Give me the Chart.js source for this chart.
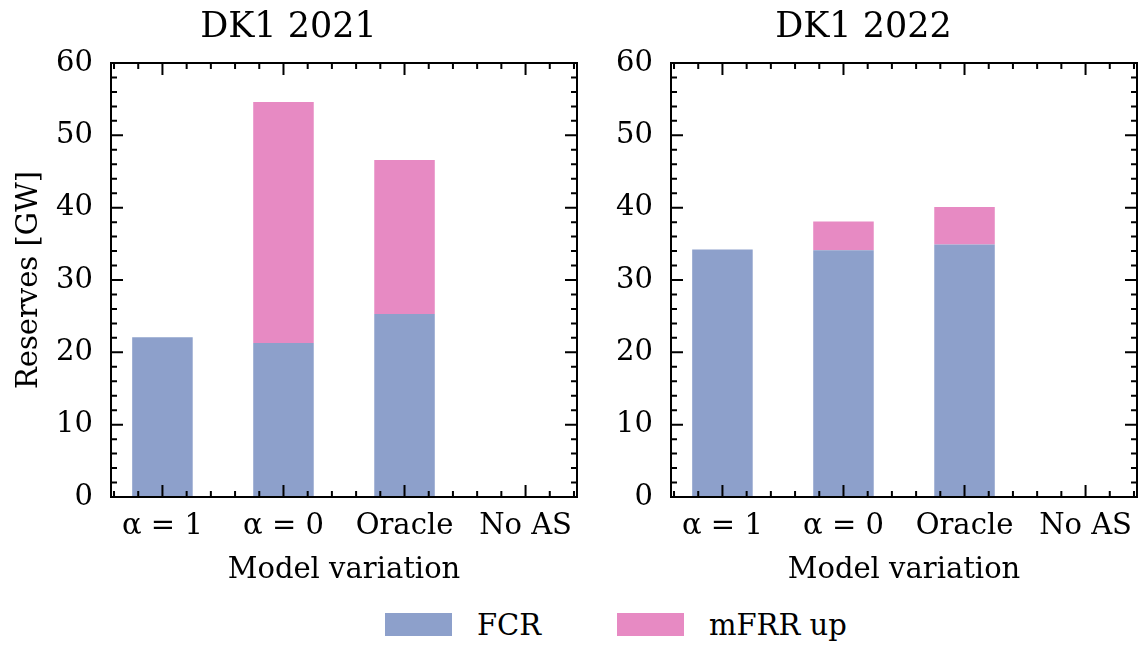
<!DOCTYPE html>
<html>
<head>
<meta charset="utf-8">
<script src="https://cdn.jsdelivr.net/npm/chart.js@4.4.1/dist/chart.umd.min.js"></script>
<style>
  body { margin: 0; background: #fff; width: 1142px; height: 645px; position: relative; overflow: hidden; }
  .box { position: absolute; top: 0; height: 600px; }
  #legend { position: absolute; top: 605px; left: 0; width: 1142px; height: 41px;
            font-family: "DejaVu Serif", "Liberation Serif", serif; font-size: 29px; color: #000; }
  .item { position: absolute; top: 0; height: 41px; line-height: 41px; white-space: nowrap; }
  .swatch { position: absolute; top: 8px; width: 67px; height: 23px; }
  .lbl { position: absolute; left: 92px; top: 0; }
</style>
</head>
<body>
<div class="box" style="left:0;width:590px"><canvas id="c2021"></canvas></div>
<div class="box" style="left:590px;width:552px"><canvas id="c2022"></canvas></div>
<div id="legend"></div>
<script>
var categories = ["α = 1", "α = 0", "Oracle", "No AS"];
var fcr2021 = [22.1, 21.3, 25.3, 0];
var mfrr2021 = [0, 33.3, 21.3, 0];
var fcr2022 = [34.2, 34.1, 34.9, 0];
var mfrr2022 = [0, 4.0, 5.2, 0];
var yTicks = [0, 10, 20, 30, 40, 50, 60];

var fcrColor = "#8da0cb";
var mfrrColor = "#e78ac3";
var fontFam = "'DejaVu Serif', 'Liberation Serif', serif";

function points(arr) {
    return arr.map(function (v, i) { return {x: i, y: v}; });
}

// inward ticks on all four sides, plus frame
var frameTicks = {
    id: "frameTicks",
    afterDraw: function (chart) {
        var ctx = chart.ctx, a = chart.chartArea;
        var xs = chart.scales.x, ys = chart.scales.y;
        ctx.save();
        ctx.strokeStyle = "#000";
        ctx.lineWidth = 2;
        ctx.beginPath();
        for (var k = -2; k <= 17; k++) {
            var v = k / 5;
            var px = xs.getPixelForValue(v);
            if (px < a.left + 1 || px > a.right - 1) continue;
            var len = (k % 5 === 0) ? 12 : 6;
            ctx.moveTo(px, a.bottom); ctx.lineTo(px, a.bottom - len);
            ctx.moveTo(px, a.top); ctx.lineTo(px, a.top + len);
        }
        for (var m = 0; m <= 60; m += 2) {
            var py = ys.getPixelForValue(m);
            var ln = (m % 10 === 0) ? 12 : 6;
            ctx.moveTo(a.left, py); ctx.lineTo(a.left + ln, py);
            ctx.moveTo(a.right, py); ctx.lineTo(a.right - ln, py);
        }
        ctx.stroke();
        ctx.strokeRect(a.left, a.top, a.right - a.left, a.bottom - a.top);
        ctx.restore();
    }
};

function makeChart(id, title, fcr, mfrr, yWidth, withYTitle, padRight) {
    return new Chart(document.getElementById(id), {
        type: "bar",
        data: {
            datasets: [
                {label: "FCR", data: points(fcr), backgroundColor: fcrColor, borderWidth: 0},
                {label: "mFRR up", data: points(mfrr), backgroundColor: mfrrColor, borderWidth: 0}
            ]
        },
        options: {
            responsive: true,
            maintainAspectRatio: false,
            animation: false,
            layout: {padding: {left: 0, right: padRight, top: 0, bottom: 0}},
            datasets: {bar: {barPercentage: 0.5, categoryPercentage: 1}},
            plugins: {
                legend: {display: false},
                tooltip: {enabled: false},
                title: {
                    display: true, text: title, color: "#000",
                    font: {family: fontFam, size: 35, weight: "normal", lineHeight: 1.2},
                    padding: {top: 7, bottom: 14}
                }
            },
            scales: {
                x: {
                    type: "linear", stacked: true, offset: false,
                    min: -0.425, max: 3.425,
                    grid: {display: false, offset: false}, border: {display: false},
                    ticks: {
                        stepSize: 1, includeBounds: false, autoSkip: false, maxRotation: 0,
                        color: "#000", padding: 4,
                        font: {family: fontFam, size: 29},
                        callback: function (v) { return categories[v]; }
                    },
                    title: {
                        display: true, text: "Model variation", color: "#000",
                        font: {family: fontFam, size: 29, lineHeight: 1.2},
                        padding: {top: 0, bottom: 12}
                    },
                    afterFit: function (s) { s.height = 103; }
                },
                y: {
                    stacked: true, min: 0, max: 60,
                    grid: {display: false}, border: {display: false},
                    afterBuildTicks: function (s) { s.ticks = yTicks.map(function (v) { return {value: v}; }); },
                    ticks: {color: "#000", padding: 10, font: {family: fontFam, size: 29}},
                    title: {
                        display: withYTitle, text: "Reserves [GW]", color: "#000",
                        font: {family: fontFam, size: 29, lineHeight: 1.2},
                        padding: {top: 12, bottom: 0}
                    },
                    afterFit: function (s) { s.width = yWidth; }
                }
            }
        },
        plugins: [frameTicks]
    });
}

var chartA = makeChart("c2021", "DK1 2021", fcr2021, mfrr2021, 111, true, 13);
var chartB = makeChart("c2022", "DK1 2022", fcr2022, mfrr2022, 81, false, 5);

// shared legend under both panels
var legendItems = [
    {text: chartA.data.datasets[0].label, color: fcrColor, left: 385},
    {text: chartA.data.datasets[1].label, color: mfrrColor, left: 617}
];
var leg = document.getElementById("legend");
legendItems.forEach(function (it) {
    var d = document.createElement("div");
    d.className = "item";
    d.style.left = it.left + "px";
    d.innerHTML = '<span class="swatch" style="background:' + it.color + '"></span><span class="lbl"></span>';
    d.querySelector(".lbl").textContent = it.text;
    leg.appendChild(d);
});
</script>
</body>
</html>
